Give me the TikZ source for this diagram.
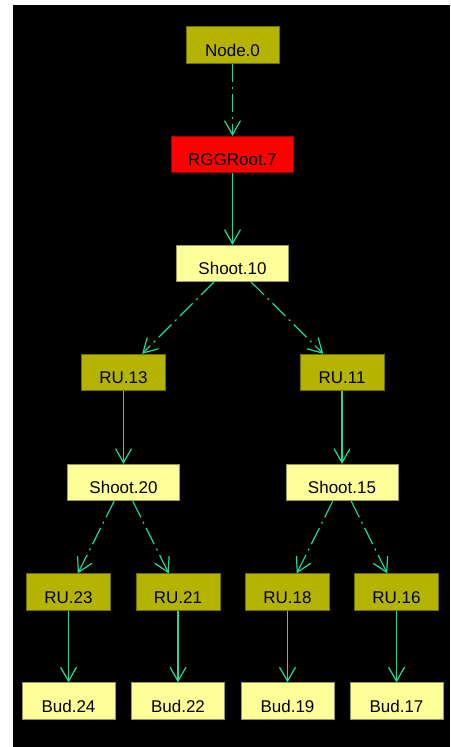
\documentclass[tikz,border=0pt]{standalone}
\usepackage{fontspec}
\setmainfont{Liberation Sans}
\usetikzlibrary{arrows.meta}
\definecolor{olivebox}{RGB}{179,179,0}
\definecolor{olivedark}{RGB}{110,110,0}
\definecolor{paleyellow}{RGB}{255,255,153}
\definecolor{palerim}{RGB}{150,150,90}
\definecolor{edgegreen}{RGB}{30,220,160}
\begin{document}
\begin{tikzpicture}[x=1pt, y=1pt,
    font=\fontsize{17}{20}\selectfont,
    box/.style={rectangle, draw, line width=0.8pt, inner sep=0pt,
      minimum height=36.5pt, text height=22pt, text depth=0pt},
    rubox/.style={box, fill=olivebox, draw=olivedark, minimum width=84pt},
    shootbox/.style={box, fill=paleyellow, draw=palerim, minimum width=112pt},
    budbox/.style={box, fill=paleyellow, draw=palerim, minimum width=93pt},
    rootbox/.style={box, fill=red, draw=red!60!black, minimum width=122pt},
    edge/.style={draw=edgegreen, line width=1.2pt,
      -{Straight Barb[length=14pt, width=16pt, line width=1.2pt]}},
    dashdot/.style={edge, dash pattern=on 18pt off 5pt on 2pt off 5pt}]
  \fill[white] (0,0) rectangle (450,-747);
  \fill[black] (13,-5) rectangle (450,-747);
  % top of the tree
  \node[rubox, minimum width=93pt] (node0) at (232.5,-45) {Node.0};
  \node[rootbox] (root7) at (232.5,-154.5) {RGGRoot.7};
  \node[shootbox] (shoot10) at (232.5,-263.5) {Shoot.10};
  % second level
  \node[rubox] (ru13) at (123.5,-372.5) {RU.13};
  \node[rubox] (ru11) at (342,-372.5) {RU.11};
  \node[shootbox] (shoot20) at (123.5,-482.5) {Shoot.20};
  \node[shootbox] (shoot15) at (342,-482.5) {Shoot.15};
  % third level
  \node[rubox] (ru23) at (68.5,-592) {RU.23};
  \node[rubox] (ru21) at (178,-592) {RU.21};
  \node[rubox] (ru18) at (287.5,-592) {RU.18};
  \node[rubox] (ru16) at (396.5,-592) {RU.16};
  \node[budbox] (bud24) at (68.5,-701) {Bud.24};
  \node[budbox] (bud22) at (178,-701) {Bud.22};
  \node[budbox] (bud19) at (287.5,-701) {Bud.19};
  \node[budbox] (bud17) at (396.5,-701) {Bud.17};
  % edges
  \draw[dashdot] (node0) -- (root7);
  \draw[edge] (root7) -- (shoot10);
  \draw[dashdot] (shoot10) -- (ru13);
  \draw[dashdot] (shoot10) -- (ru11);
  \draw[edge] (ru13) -- (shoot20);
  \draw[edge] (ru11) -- (shoot15);
  \draw[dashdot] (shoot20) -- (ru23);
  \draw[dashdot] (shoot20) -- (ru21);
  \draw[dashdot] (shoot15) -- (ru18);
  \draw[dashdot] (shoot15) -- (ru16);
  \draw[edge] (ru23) -- (bud24);
  \draw[edge] (ru21) -- (bud22);
  \draw[edge] (ru18) -- (bud19);
  \draw[edge] (ru16) -- (bud17);
\end{tikzpicture}
\end{document}
